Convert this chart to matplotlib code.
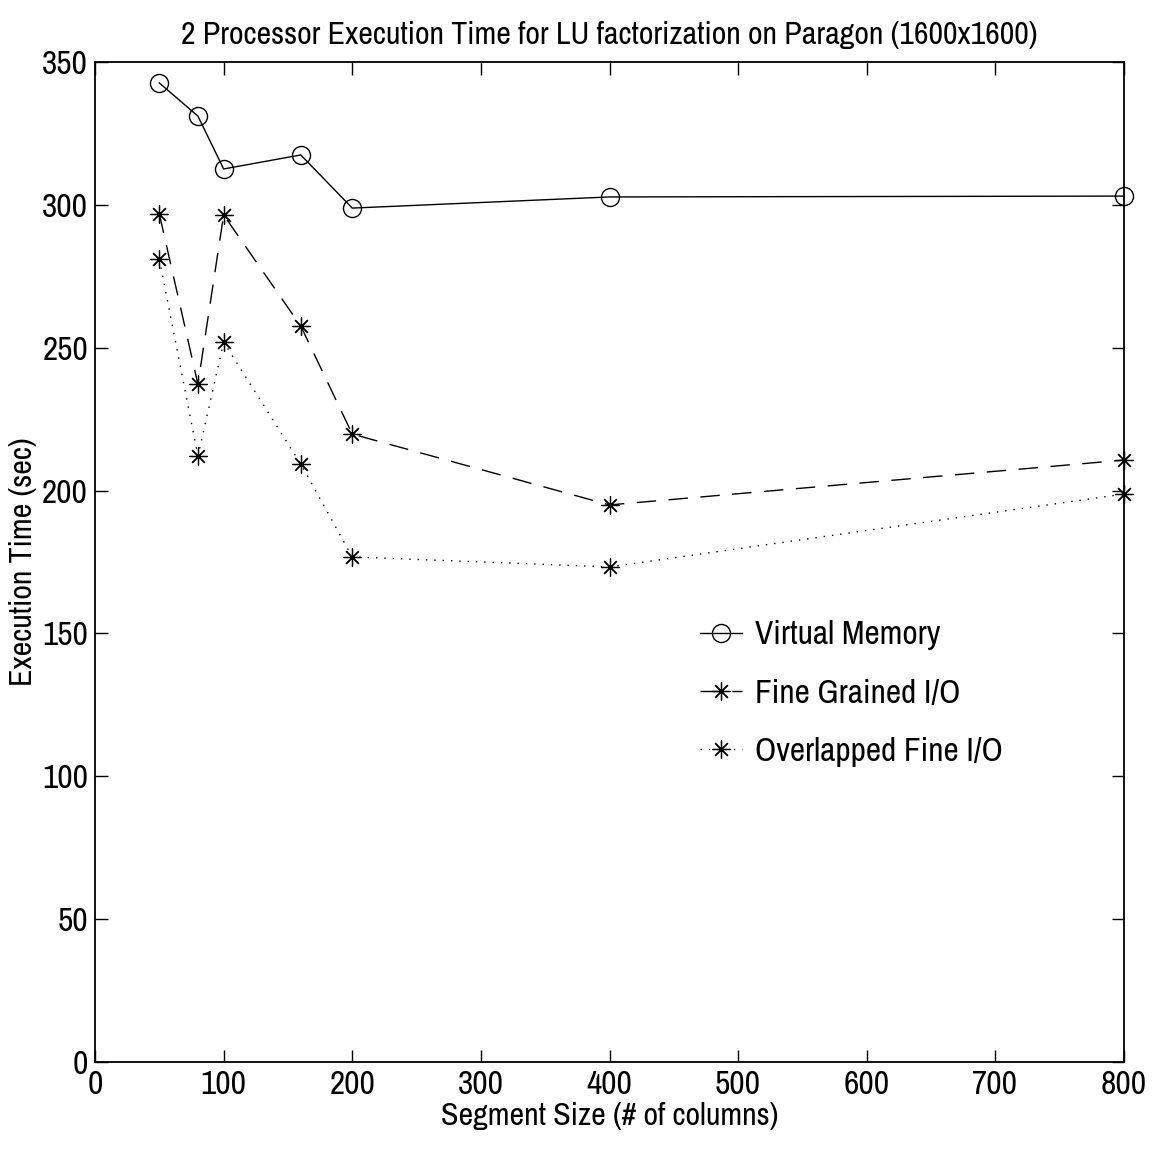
import matplotlib.pyplot as plt
from matplotlib.legend_handler import HandlerLine2D

plt.rcParams['font.family'] = ['Archivo Narrow', 'Liberation Sans', 'DejaVu Sans']

seg = [50, 80, 100, 160, 200, 400, 800]
virtual_mem = [342.7, 331.1, 312.6, 317.5, 298.9, 302.8, 303.1]
fine_io = [296.8, 237.3, 296.5, 257.6, 219.8, 195.0, 210.7]
overlap_io = [281.0, 212.1, 252.0, 209.3, 176.8, 173.3, 198.8]


class EndMarker(HandlerLine2D):
    # marker at the right end of the legend line, like matlab
    def get_xdata(self, legend, xdescent, ydescent, width, height, fontsize):
        xdata, xm = super().get_xdata(legend, xdescent, ydescent, width, height, fontsize)
        return [xdata[0], xdata[-1] - 8], [xdata[-1]]


fig = plt.figure(figsize=(11.56, 11.5), dpi=100)
ax = fig.add_axes([0.0822, 0.0765, 0.8901, 0.8695])

ax.plot(seg, virtual_mem, color='k', lw=1, marker='o', ms=13, mfc='none', mew=1,
        label='Virtual Memory', clip_on=False)
ax.plot(seg, fine_io, color='k', lw=1, ls=(0, (14, 9)), marker=(8, 2, 0), ms=13, mew=0.9,
        label='Fine Grained I/O', clip_on=False)
ax.plot(seg, overlap_io, color='k', lw=1, ls=(0, (1, 5)), marker=(8, 2, 0), ms=13, mew=0.9,
        label='Overlapped Fine I/O', clip_on=False)

ax.set_xlim(0, 800)
ax.set_ylim(0, 350)
ax.set_xticks(range(0, 801, 100))
ax.set_yticks(range(0, 351, 50))
ax.tick_params(direction='in', length=9, width=1, top=True, right=True, labelsize=24)
ax.tick_params(axis='x', pad=6)
ax.tick_params(axis='y', pad=5)
for s in ax.spines.values():
    s.set_linewidth(1.3)

ax.set_title('2 Processor Execution Time for LU factorization on Paragon (1600x1600)',
             fontsize=23, pad=13)
ax.set_xlabel('Segment Size (# of columns)', fontsize=23, labelpad=1)
ax.set_ylabel('Execution Time (sec)', fontsize=23, labelpad=4)

ax.legend(handler_map={l: EndMarker() for l in ax.get_lines()},
          loc='upper left', bbox_to_anchor=(0.575, 0.455), frameon=False,
          fontsize=24, handlelength=1.6, handletextpad=0.05, labelspacing=0.85,
          borderaxespad=0)

fig.savefig('out.png', dpi=100)
